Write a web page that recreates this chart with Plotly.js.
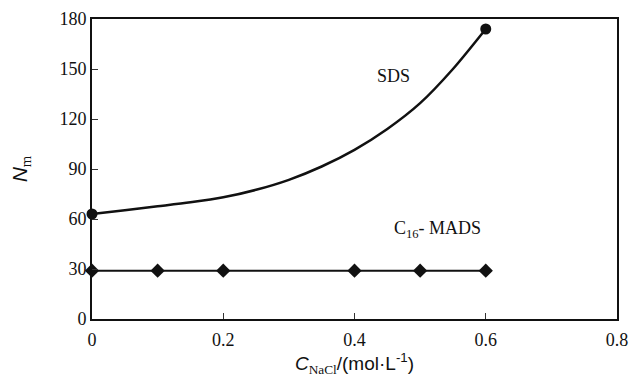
<!DOCTYPE html>
<html>
<head>
<meta charset="utf-8">
<script src="https://cdn.plot.ly/plotly-3.0.1.min.js"></script>
<style>html,body{margin:0;padding:0;background:#fff;}#chart{width:630px;height:383px;}</style>
</head>
<body>
<div id="chart"></div>
<script>
// SDS curve
var sdsX = [0, 0.05, 0.1, 0.15, 0.2, 0.25, 0.3, 0.35, 0.4, 0.45, 0.5, 0.55, 0.6];
var sdsY = [63, 65.3, 67.6, 70, 73, 77.5, 83.5, 91.5, 101.5, 114, 129.5, 150, 174];
// SDS measured end points
var sdsPtsX = [0, 0.6];
var sdsPtsY = [63, 174];
// C16-MADS
var madsX = [0, 0.1, 0.2, 0.4, 0.5, 0.6];
var madsY = [29, 29, 29, 29, 29, 29];
// axis ticks
var xTicks = [0, 0.2, 0.4, 0.6, 0.8];
var xTickText = ["0", "0.2", "0.4", "0.6", "0.8"];
var yTicks = [0, 30, 60, 90, 120, 150, 180];
// labels
var labels = ["SDS", "C<sub>16</sub>- MADS"];
var labelX = [0.459, 0.527];
var labelY = [146, 53.5];

var serif = "Liberation Serif";
var sans = "Liberation Sans";

var traces = [
  {x: sdsX, y: sdsY, mode: "lines", line: {color: "#111", width: 2.5, shape: "spline", smoothing: 0.8}, hoverinfo: "skip"},
  {x: sdsPtsX, y: sdsPtsY, mode: "markers", marker: {color: "#111", size: 11, symbol: "circle"}, cliponaxis: false},
  {x: madsX, y: madsY, mode: "lines+markers", line: {color: "#111", width: 2}, marker: {color: "#111", size: 11, symbol: "diamond"}, cliponaxis: false}
];

var annotations = labels.map(function (t, i) {
  return {x: labelX[i], y: labelY[i], xref: "x", yref: "y", text: t, showarrow: false,
          font: {family: serif, size: 18, color: "#111"}};
});

var layout = {
  width: 630, height: 383,
  margin: {l: 92, r: 13, t: 19, b: 64},
  paper_bgcolor: "#fff", plot_bgcolor: "#fff",
  showlegend: false,
  font: {family: serif},
  xaxis: {
    range: [0, 0.8], tickvals: xTicks, ticktext: xTickText,
    ticks: "inside", ticklen: 6, tickwidth: 1, tickcolor: "#333",
    showline: true, linecolor: "#111", linewidth: 2, mirror: true,
    showgrid: false, zeroline: false, ticklabelstandoff: 3,
    tickfont: {family: serif, size: 18, color: "#111"},
    title: {text: "<i>C</i><sub><span style=\"font-family:Liberation Serif\">NaCl</span></sub>/(mol·L<sup>-1</sup>)",
            font: {family: sans, size: 19, color: "#111"}, standoff: 4}
  },
  yaxis: {
    range: [0, 180], tickvals: yTicks,
    ticks: "inside", ticklen: 6, tickwidth: 1, tickcolor: "#333",
    showline: true, linecolor: "#111", linewidth: 2, mirror: true,
    showgrid: false, zeroline: false,
    tickfont: {family: serif, size: 18, color: "#111"},
    title: {text: "<i>N</i><sub><span style=\"font-family:Liberation Serif\">m</span></sub>",
            font: {family: sans, size: 21, color: "#111"}, standoff: 26}
  },
  annotations: annotations
};

Plotly.newPlot("chart", traces, layout, {displayModeBar: false, staticPlot: true});
</script>
</body>
</html>
